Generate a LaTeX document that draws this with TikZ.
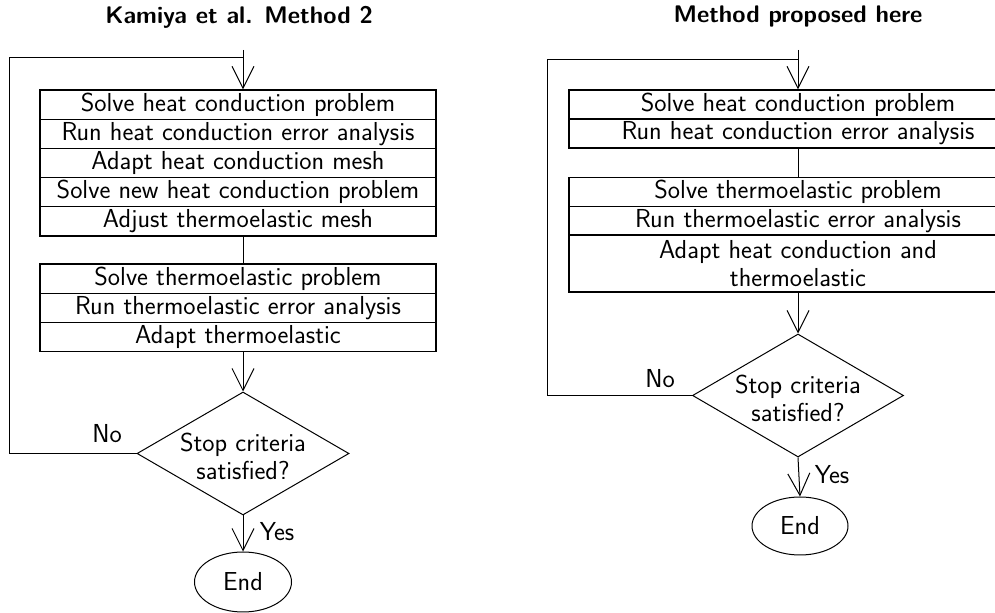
\documentclass[tikz,border=0pt]{standalone}
\usepackage{fontspec}
\newfontfamily\lmsxvii[Extension=.otf]{lmsans17-regular}
\usetikzlibrary{arrows.meta,shapes.geometric}
\begin{document}
\begin{tikzpicture}[x=0.5pt,y=-0.5pt,
  every node/.style={font=\fontsize{13}{14}\lmsxvii},
  lrow/.style={draw, line width=0.6pt, minimum width=198pt, minimum height=14.6pt, inner sep=0pt},
  rrow/.style={draw, line width=0.6pt, minimum width=229pt, minimum height=14.5pt, inner sep=0pt, align=center},
  dec/.style={diamond, draw, line width=0.5pt, inner sep=0pt},
  endnode/.style={ellipse, draw, line width=0.5pt, inner sep=0pt},
  ttl/.style={font=\fontsize{12}{14}\sffamily\bfseries},
  conn/.style={line width=0.5pt},
  arr/.style={line width=0.5pt, -{Straight Barb[length=11pt,width=11pt]}}
]
\clip (0,0) rectangle (995,613);

% ---------- Left diagram ----------
\node[ttl] (t1) at (239,17) {Kamiya et al. Method 2};
\coordinate (a1) at (243,50);
\coordinate (c1) at (9,58);
\node[lrow] (l1) at (238,104.6) {Solve heat conduction problem};
\node[lrow] (l2) at (238,133.8) {Run heat conduction error analysis};
\node[lrow] (l3) at (238,163.0) {Adapt heat conduction mesh};
\node[lrow] (l4) at (238,192.2) {Solve new heat conduction problem};
\node[lrow] (l5) at (238,221.4) {Adjust thermoelastic mesh};
\node[lrow] (m1) at (238,278.6) {Solve thermoelastic problem};
\node[lrow] (m2) at (238,307.9) {Run thermoelastic error analysis};
\node[lrow] (m3) at (238,337.2) {Adapt thermoelastic};
\node[dec, minimum width=106pt, minimum height=61.5pt] (d1) at (243,453.5) {};
\node[align=center] (q1) at (243,456) {Stop criteria\\satisfied?};
\node[endnode, minimum width=48.5pt, minimum height=30pt] (e1) at (243,582) {End};
\node (no1) at (107,434) {No};
\node (yes1) at (277,532) {Yes};

\draw[arr] (a1) -- (a1 |- l1.north);
\draw[conn] (a1 |- l5.south) -- (a1 |- m1.north);
\draw[arr] (a1 |- m3.south) -- (d1.north);
\draw[conn] (d1.west) -| (c1) -- (c1 -| a1);
\draw[arr] (d1.south) -- (e1.north);

% ---------- Right diagram ----------
\node[ttl] (t2) at (798,17) {Method proposed here};
\coordinate (a2) at (798,50);
\coordinate (c2) at (547,60);
\node[rrow] (r1) at (798,104.5) {Solve heat conduction problem};
\node[rrow] (r2) at (798,133.5) {Run heat conduction error analysis};
\node[rrow] (s1) at (798,192.3) {Solve thermoelastic problem};
\node[rrow] (s2) at (798,220.8) {Run thermoelastic error analysis};
\node[rrow, minimum height=28.5pt] (s3) at (798,263.5) {Adapt heat conduction and\\thermoelastic};
\node[dec, minimum width=105.5pt, minimum height=61.5pt] (d2) at (798,395.5) {};
\node[align=center] (q2) at (798,398) {Stop criteria\\satisfied?};
\node[endnode, minimum width=48pt, minimum height=29pt] (e2) at (800,526) {End};
\node (no2) at (660,379) {No};
\node (yes2) at (832,475) {Yes};

\draw[arr] (a2) -- (a2 |- r1.north);
\draw[conn] (a2 |- r2.south) -- (a2 |- s1.north);
\draw[arr] (a2 |- s3.south) -- (d2.north);
\draw[conn] (d2.west) -| (c2) -- (c2 -| a2);
\draw[arr] (d2.south) -- (e2.north);
\end{tikzpicture}
\end{document}
